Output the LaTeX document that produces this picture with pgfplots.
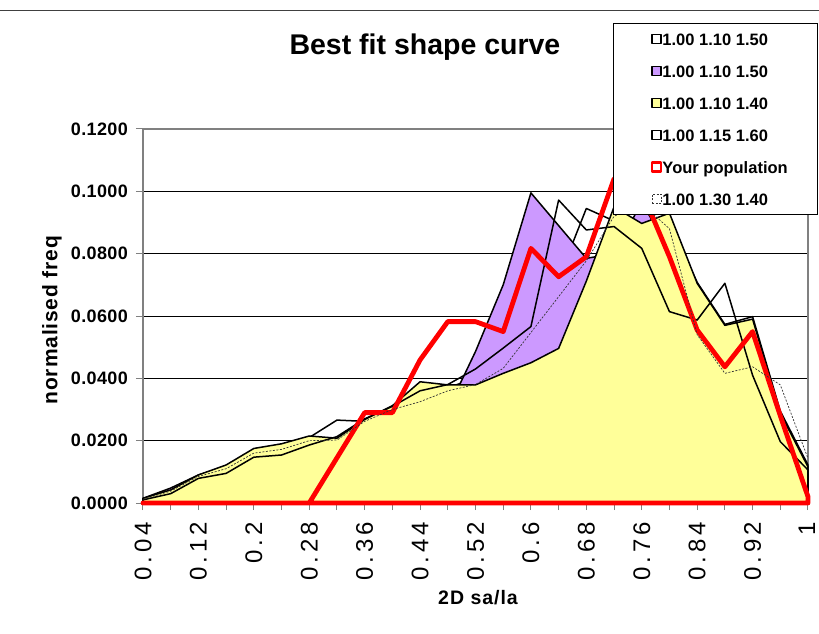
\documentclass[border=0pt]{standalone}
\usepackage{fontspec}
\setmainfont{Liberation Sans}
\usepackage{pgfplots}
\usepackage{pgfplotstable}
\pgfplotsset{compat=1.18}
\definecolor{lav}{HTML}{CC99FF}
\definecolor{lyel}{HTML}{FFFF99}
\definecolor{axgray}{HTML}{808080}
\newcommand\titlefont{\fontsize{28.5bp}{32bp}\selectfont\bfseries}
\newcommand\legfont{\fontsize{16.5bp}{18bp}\selectfont\bfseries}
\newcommand\ytfont{\fontsize{18bp}{20bp}\selectfont\bfseries\addfontfeature{LetterSpace=2}}
\newcommand\xtfont{\fontsize{24bp}{26bp}\selectfont\addfontfeature{LetterSpace=16}}
\newcommand\ylfont{\fontsize{21bp}{24bp}\selectfont\bfseries\addfontfeature{LetterSpace=4}}
\newcommand\xlfont{\fontsize{19.5bp}{22bp}\selectfont\bfseries\addfontfeature{LetterSpace=5}}

\pgfplotstableread{
x    A      B      C      D      E      F
0.04 0.0012 0.0015 0.0015 0.0010 0      0.0012
0.08 0.0040 0.0048 0.0042 0.0030 0      0.0038
0.12 0.0088 0.0090 0.0090 0.0079 0      0.0085
0.16 0.0120 0.0118 0.0122 0.0095 0      0.0110
0.20 0.0170 0.0160 0.0175 0.0147 0      0.0160
0.24 0.0185 0.0180 0.0190 0.0154 0      0.0172
0.28 0.0210 0.0200 0.0215 0.0186 0      0.0200
0.32 0.0266 0.0205 0.0208 0.0213 0.0145 0.0202
0.36 0.0262 0.0260 0.0268 0.0270 0.0290 0.0262
0.40 0.0310 0.0290 0.0312 0.0310 0.0290 0.0300
0.44 0.0370 0.0280 0.0389 0.0360 0.0459 0.0325
0.48 0.0370 0.0300 0.0379 0.0380 0.0582 0.0360
0.52 0.0400 0.0486 0.0379 0.0430 0.0582 0.0380
0.56 0.0480 0.0700 0.0416 0.0497 0.0550 0.0432
0.60 0.0570 0.0995 0.0450 0.0566 0.0817 0.0547
0.64 0.0720 0.0890 0.0496 0.0972 0.0726 0.0662
0.68 0.0945 0.0785 0.0712 0.0876 0.0790 0.0777
0.72 0.0905 0.0800 0.0950 0.0887 0.1040 0.0920
0.76 0.0880 0.0965 0.0897 0.0817 0.1000 0.0960
0.80 0.0900 0.0810 0.0930 0.0614 0.0790 0.0880
0.84 0.0708 0.0620 0.0705 0.0587 0.0555 0.0540
0.88 0.0573 0.0500 0.0570 0.0705 0.0437 0.0416
0.92 0.0598 0.0500 0.0590 0.0410 0.0550 0.0437
0.96 0.0295 0.0250 0.0288 0.0197 0.0280 0.0379
1.00 0.0122 0.0090 0.0116 0.0106 0.0020 0.0143
}\data

\begin{document}
\begin{tikzpicture}
\useasboundingbox (-143bp,-131bp) rectangle (676bp,503bp);
\begin{axis}[
  scale only axis, width=665bp, height=374bp,
  xmin=0.04, xmax=1, ymin=0, ymax=0.12,
  enlargelimits=false, clip=false,
  xtick={0.04,0.08,0.12,0.16,0.20,0.24,0.28,0.32,0.36,0.40,0.44,0.48,0.52,0.56,0.60,0.64,0.68,0.72,0.76,0.80,0.84,0.88,0.92,0.96,1.00},
  xticklabels={0.04,,0.12,,0.2,,0.28,,0.36,,0.44,,0.52,,0.6,,0.68,,0.76,,0.84,,0.92,,\raisebox{2.5bp}{1}},
  ytick={0,0.02,0.04,0.06,0.08,0.1,0.12},
  yticklabels={0.0000,0.0200,0.0400,0.0600,0.0800,0.1000,0.1200},
  tick pos=left, tick align=outside, major tick length=7bp,
  tick style={axgray, line width=1bp},
  axis line style={axgray, line width=1.5bp},
  ymajorgrids, grid style={black, line width=0.9bp},
  xticklabel style={font=\xtfont, inner sep=0pt, yshift=-12bp, rotate=90, anchor=east},
  yticklabel style={font=\ytfont, inner sep=0pt, xshift=-8bp},
  title={Best fit shape curve},
  title style={at={(axis description cs:0.424,1.1845)}, anchor=base, font=\titlefont},
  xlabel={2D sa/la},
  xlabel style={at={(axis description cs:0.5038,-0.254)}, anchor=center, font=\xlfont},
  ylabel={normalised freq},
  ylabel style={at={(axis description cs:-0.1368,0.489)}, anchor=center, font=\ylfont},
  legend style={at={(axis description cs:0.7063,1.284)}, anchor=north west,
    draw=black, line width=1bp, fill=white, inner xsep=30bp, inner ysep=7.9bp,
    row sep=16.5bp, font=\legfont, cells={anchor=west},
    nodes={inner sep=0pt, text height=14bp, text depth=1.5bp},
    /tikz/every even column/.append style={column sep=4.5bp}},
  legend image code/.code={\path (0bp,0bp); \draw[#1] (7.5bp,-4.65bp) rectangle (16.8bp,4.65bp);},
]
\addplot[draw=black, line width=1.5bp, line join=round] table[x=x,y=A]{\data} \closedcycle;
\addplot[draw=black, line width=1.5bp, fill=lav, line join=round] table[x=x,y=B]{\data} \closedcycle;
\addplot[draw=black, line width=1.5bp, fill=lyel, line join=round] table[x=x,y=C]{\data} \closedcycle;
\addplot[draw=black, line width=1.5bp, line join=round] table[x=x,y=D]{\data} \closedcycle;
\addplot[draw=red, line width=4.8bp, line join=round, legend image post style={line width=2.5bp}] table[x=x,y=E]{\data} \closedcycle;
\addplot[draw=black!80, line width=0.7bp, dash pattern=on 2bp off 1.5bp] table[x=x,y=F]{\data};
\legend{1.00 1.10 1.50, 1.00 1.10 1.50, 1.00 1.10 1.40, 1.00 1.15 1.60, Your population, 1.00 1.30 1.40}
\end{axis}
\draw[black!75, line width=1.2bp] (-143bp,492.3bp) -- (676bp,492.3bp);
\end{tikzpicture}
\end{document}
